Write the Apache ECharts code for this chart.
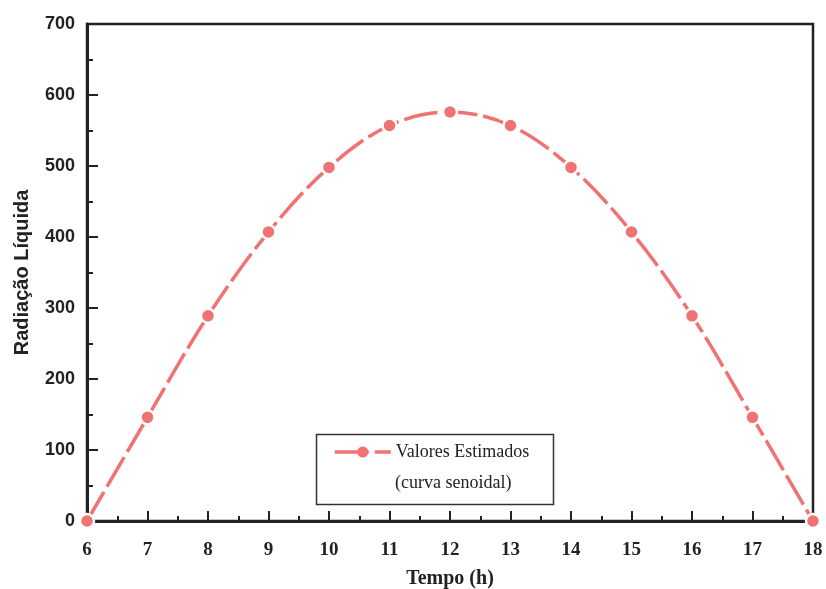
<!DOCTYPE html>
<html>
<head>
<meta charset="utf-8">
<script src="https://cdn.jsdelivr.net/npm/echarts@6/dist/echarts.min.js"></script>
<style>html,body{margin:0;padding:0;background:#fff}#c{width:826px;height:589px}</style>
</head>
<body>
<div id="c"></div>
<script>
var hours = [6, 7, 8, 9, 10, 11, 12, 13, 14, 15, 16, 17, 18];
var radiacao = [0, 146, 289, 407, 498, 557, 576, 557, 498, 407, 289, 146, 0];
var seriesName = 'Valores Estimados';
var legendNote = '(curva senoidal)';
var xTitle = 'Tempo (h)';
var yTitle = 'Radiação Líquida';

var chart = echarts.init(document.getElementById('c'), null, {renderer: 'canvas'});
var axisColor = '#222';
var lineColor = '#f07272';
chart.setOption({
  animation: false,
  backgroundColor: '#fff',
  grid: {left: 87, top: 24, right: 13, bottom: 68, show: true, borderColor: axisColor, borderWidth: 2.5, containLabel: false, outerBoundsMode: 'none'},
  xAxis: {
    type: 'value', min: 6, max: 18, interval: 1,
    name: xTitle, nameLocation: 'middle', nameGap: 48,
    nameTextStyle: {fontFamily: 'Liberation Serif', fontWeight: 'bold', fontSize: 20, color: axisColor},
    axisLine: {lineStyle: {color: axisColor, width: 3}},
    axisTick: {inside: true, length: 10, lineStyle: {color: axisColor, width: 2}},
    minorTick: {show: true, splitNumber: 2, length: 5, lineStyle: {color: axisColor, width: 2}},
    splitLine: {show: false},
    axisLabel: {fontFamily: 'Liberation Serif', fontWeight: 'bold', fontSize: 19, color: axisColor, margin: 20}
  },
  yAxis: {
    type: 'value', min: 0, max: 700, interval: 100,
    name: yTitle, nameLocation: 'middle', nameGap: 55,
    nameTextStyle: {fontFamily: 'Liberation Sans', fontWeight: 'bold', fontSize: 20, color: axisColor},
    axisLine: {show: true, lineStyle: {color: axisColor, width: 3}},
    axisTick: {show: true, inside: true, length: 11, lineStyle: {color: axisColor, width: 2}},
    minorTick: {show: true, splitNumber: 2, length: 6, lineStyle: {color: axisColor, width: 2}},
    splitLine: {show: false},
    axisLabel: {fontFamily: 'Liberation Sans', fontWeight: 'bold', fontSize: 18, color: axisColor, margin: 12}
  },
  legend: {
    left: 333, top: 443, padding: 0,
    itemWidth: 56, itemHeight: 14,
    itemStyle: {borderWidth: 0},
    lineStyle: {width: 3.5},
    textStyle: {fontFamily: 'Liberation Serif', fontSize: 18, color: axisColor},
    data: [seriesName]
  },
  graphic: [
    {type: 'rect', left: 314, top: 432, shape: {width: 237, height: 70}, style: {fill: 'none', stroke: '#333', lineWidth: 1.5}, z: 1},
    {type: 'text', left: 395, top: 474, style: {text: legendNote, fontFamily: 'Liberation Serif', fontSize: 18, fill: axisColor}, z: 5}
  ],
  series: [{
    name: seriesName,
    type: 'line',
    smooth: 0.35,
    data: hours.map(function (h, i) { return [h, radiacao[i]]; }),
    symbol: 'circle', symbolSize: 14,
    clip: false,
    lineStyle: {color: lineColor, width: 3.5, type: [34, 6]},
    itemStyle: {color: lineColor, borderColor: '#fff', borderWidth: 2.5}
  }]
});
</script>
</body>
</html>
